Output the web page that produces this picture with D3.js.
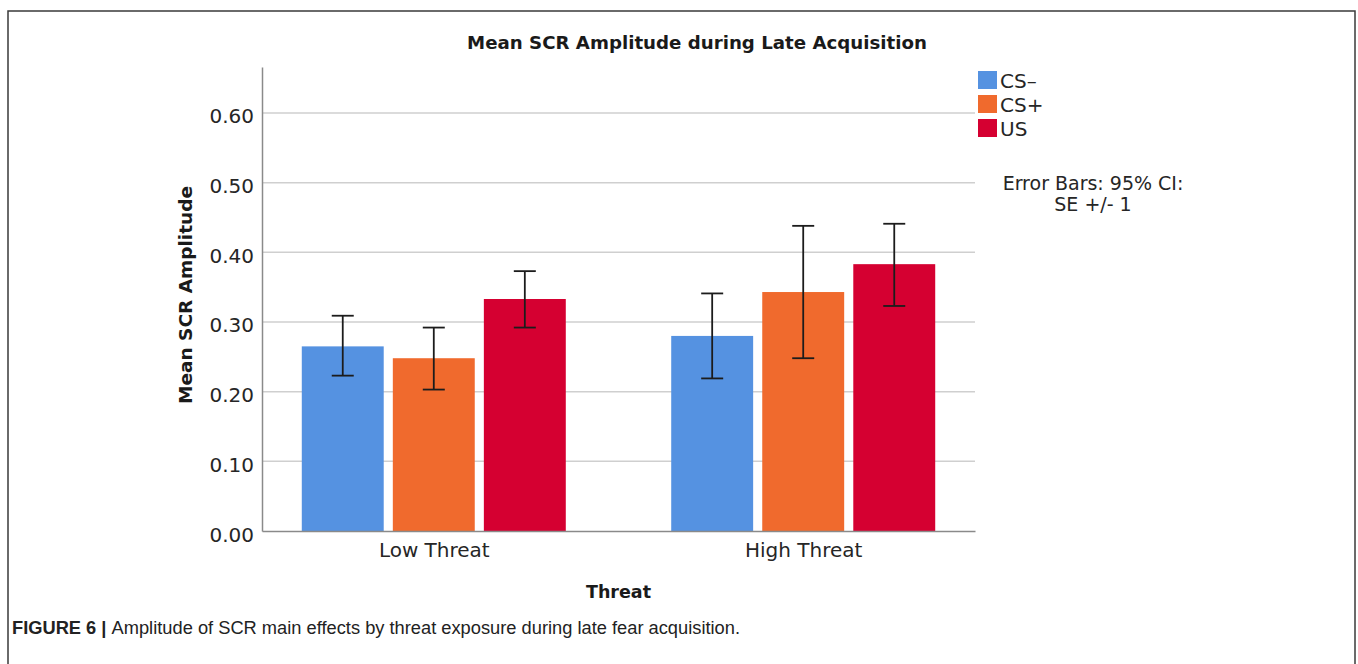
<!DOCTYPE html>
<html><head><meta charset="utf-8">
<script src="https://cdn.jsdelivr.net/npm/d3@7"></script>
<style>
html,body{margin:0;padding:0;background:#fff;}
svg{display:block;}
</style></head>
<body>
<svg id="chart" width="1358" height="664"></svg>
<script>
// ---- data ----
const groups = ["Low Threat", "High Threat"];
const seriesNames = ["CS\u2013", "CS+", "US"];
const seriesColors = ["#5592e1", "#f06a2d", "#d50031"];
const meanCSminus = [0.265, 0.280];
const meanCSplus  = [0.248, 0.343];
const meanUS      = [0.333, 0.383];
const ciLowCSminus = [0.223, 0.219];
const ciHighCSminus = [0.309, 0.341];
const ciLowCSplus = [0.203, 0.248];
const ciHighCSplus = [0.292, 0.438];
const ciLowUS = [0.292, 0.323];
const ciHighUS = [0.373, 0.441];
const yTicks = [0, 0.1, 0.2, 0.3, 0.4, 0.5, 0.6];
const chartTitle = "Mean SCR Amplitude during Late Acquisition";
const yTitle = "Mean SCR Amplitude";
const xTitle = "Threat";
const errNote = ["Error Bars: 95% CI:", "SE +/- 1"];

const means = [meanCSminus, meanCSplus, meanUS];
const lows = [ciLowCSminus, ciLowCSplus, ciLowUS];
const highs = [ciHighCSminus, ciHighCSplus, ciHighUS];
const rows = [];
groups.forEach((g, gi) => seriesNames.forEach((s, si) => rows.push({
  group: g, series: s, color: seriesColors[si],
  value: means[si][gi], lo: lows[si][gi], hi: highs[si][gi]
})));

// ---- layout ----
const svg = d3.select("#chart");
const plotL = 262, plotR = 975, plotT = 67, plotB = 531;
const font = "'DejaVu Sans', sans-serif";

// outer frame
svg.append("rect").attr("x", 8).attr("y", 11).attr("width", 1347).attr("height", 700)
  .attr("fill", "none").attr("stroke", "#3a3a3a").attr("stroke-width", 1.5);

const y = d3.scaleLinear().domain([0, 0.666]).range([plotB, plotT]);
const x = d3.scalePoint().domain(groups).range([plotL, plotR]).padding(0.465);
const xs = d3.scaleBand().domain(seriesNames).range([-132, 132]).paddingInner(0.1);

// gridlines
svg.append("g").selectAll("line").data(yTicks.filter(d => d > 0)).join("line")
  .attr("x1", plotL).attr("x2", plotR)
  .attr("y1", d => y(d)).attr("y2", d => y(d))
  .attr("stroke", "#cfcfcf").attr("stroke-width", 1.5);

// y axis
const yAxis = d3.axisLeft(y).tickValues(yTicks).tickFormat(d3.format(".2f")).tickSize(0).tickPadding(8);
const gy = svg.append("g").attr("transform", `translate(${plotL},0)`).call(yAxis);
gy.select(".domain").attr("stroke", "#8a8a8a").attr("stroke-width", 1.5);
gy.selectAll("text").attr("font-family", font).attr("font-size", 20).attr("fill", "#262626").attr("dy", "0.5em");

// bars
svg.append("g").selectAll("rect").data(rows).join("rect")
  .attr("x", d => x(d.group) + xs(d.series))
  .attr("width", xs.bandwidth())
  .attr("y", d => y(d.value))
  .attr("height", d => y(0) - y(d.value))
  .attr("fill", d => d.color);

// x axis
const xAxis = d3.axisBottom(x).tickSize(0).tickPadding(12);
const gx = svg.append("g").attr("transform", `translate(0,${plotB})`).call(xAxis);
gx.select(".domain").attr("stroke", "#8a8a8a").attr("stroke-width", 1.5);
gx.selectAll("text").attr("font-family", font).attr("font-size", 20).attr("fill", "#262626");

// error bars
const eb = svg.append("g").attr("stroke", "#1c1c1c").attr("stroke-width", 1.8);
const capW = 11;
rows.forEach(d => {
  const cx = x(d.group) + xs(d.series) + xs.bandwidth() / 2;
  eb.append("line").attr("x1", cx).attr("x2", cx).attr("y1", y(d.hi)).attr("y2", y(d.lo));
  eb.append("line").attr("x1", cx - capW).attr("x2", cx + capW).attr("y1", y(d.hi)).attr("y2", y(d.hi));
  eb.append("line").attr("x1", cx - capW).attr("x2", cx + capW).attr("y1", y(d.lo)).attr("y2", y(d.lo));
});

// titles
svg.append("text").attr("x", 697).attr("y", 49).attr("text-anchor", "middle")
  .attr("font-family", font).attr("font-weight", "bold").attr("font-size", 18.2).attr("fill", "#1a1a1a")
  .text(chartTitle);
svg.append("text").attr("transform", "translate(192,295) rotate(-90)").attr("text-anchor", "middle")
  .attr("font-family", font).attr("font-weight", "bold").attr("font-size", 18.5).attr("fill", "#1a1a1a")
  .text(yTitle);
svg.append("text").attr("x", (plotL + plotR) / 2).attr("y", 598).attr("text-anchor", "middle")
  .attr("font-family", font).attr("font-weight", "bold").attr("font-size", 17.5).attr("fill", "#1a1a1a")
  .text(xTitle);

// legend
const lg = svg.append("g").attr("transform", "translate(978,71)");
seriesNames.forEach((s, i) => {
  lg.append("rect").attr("x", 0).attr("y", i * 24).attr("width", 19).attr("height", 18).attr("fill", seriesColors[i]);
  lg.append("text").attr("x", 22).attr("y", i * 24 + 17).attr("font-family", font).attr("font-size", 20)
    .attr("fill", "#262626").text(s);
});

// error bar note
errNote.forEach((t, i) => {
  svg.append("text").attr("x", 1093).attr("y", 190 + i * 21).attr("text-anchor", "middle")
    .attr("font-family", font).attr("font-size", 19).attr("fill", "#262626").text(t);
});

// caption
const cap = svg.append("text").attr("x", 12).attr("y", 634)
  .attr("font-family", "'Liberation Sans Narrow', 'Arial Narrow', 'Liberation Sans', sans-serif")
  .attr("font-size", 17.5).attr("fill", "#222");
cap.append("tspan").attr("font-weight", "bold").text("FIGURE 6 | ");
cap.append("tspan").text("Amplitude of SCR main effects by threat exposure during late fear acquisition.");
cap.attr("textLength", 728).attr("lengthAdjust", "spacingAndGlyphs");
</script>
</body></html>
